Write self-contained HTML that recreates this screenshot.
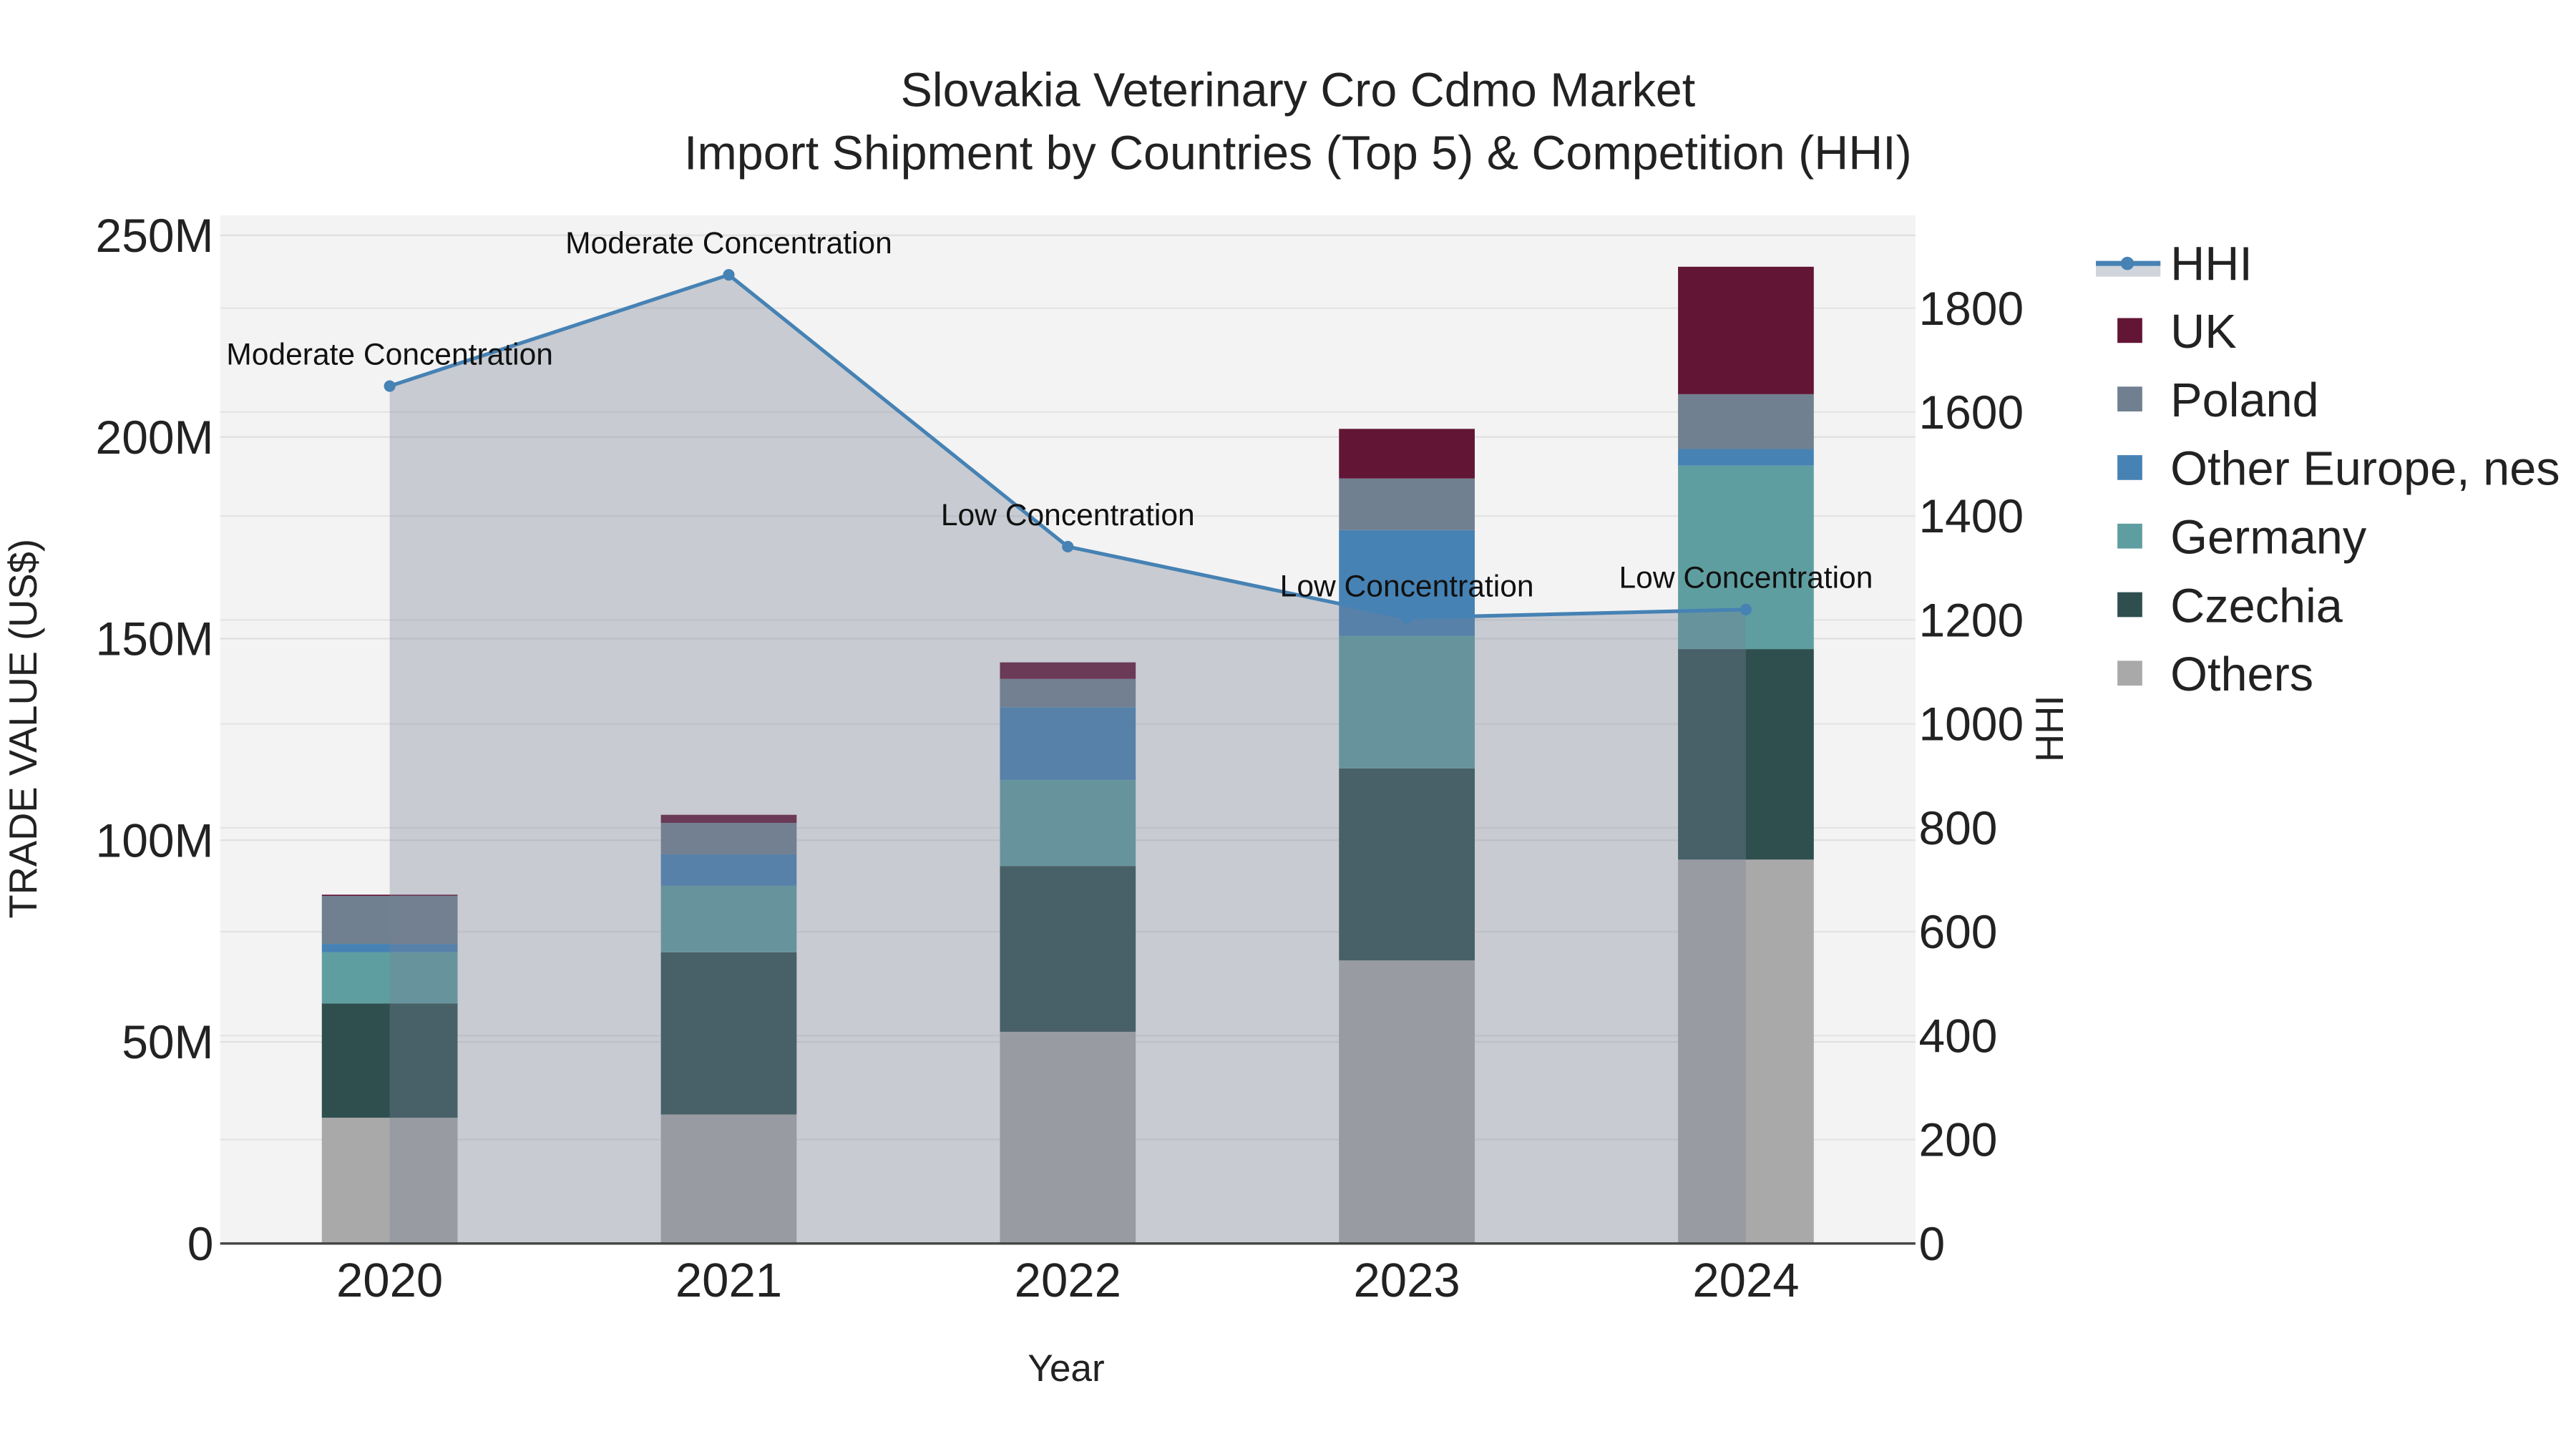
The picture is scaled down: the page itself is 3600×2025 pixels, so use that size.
<!DOCTYPE html>
<html><head><meta charset="utf-8">
<style>
html,body{margin:0;padding:0;background:#fff;}
svg{display:block;font-family:"Liberation Sans",sans-serif;}
</style></head>
<body>
<svg id="chart" width="3600" height="2025" viewBox="0 0 1556 875" xmlns="http://www.w3.org/2000/svg">
<rect x="0" y="0" width="1556" height="875" fill="#ffffff"/>
<rect x="133" y="130" width="1024" height="621" fill="#f3f3f3"/>
<g id="grid"></g>
<g id="bars"></g>
<g id="area"></g>
<g id="axes"></g>
<text x="784" y="64" text-anchor="middle" font-size="28.7" fill="#222">Slovakia Veterinary Cro Cdmo Market</text>
<text x="784" y="102" text-anchor="middle" font-size="28.7" fill="#222">Import Shipment by Countries (Top 5) &amp; Competition (HHI)</text>
<text x="644" y="834" text-anchor="middle" font-size="23" fill="#222">Year</text>
<text transform="translate(22,440) rotate(-90)" text-anchor="middle" font-size="23.5" fill="#222">TRADE VALUE (US$)</text>
<text transform="translate(1246,440) rotate(-90)" text-anchor="middle" font-size="23.5" fill="#222">HHI</text>
<g id="legend"></g>
</svg>
<script>
const years = ["2020","2021","2022","2023","2024"];
const others = [31.2, 32.0, 52.5, 70.2, 95.2];
const czechia = [28.3, 40.2, 41.1, 47.6, 52.2];
const germany = [12.7, 16.5, 21.3, 32.9, 45.5];
const otherEurope = [2.1, 7.8, 18.1, 26.2, 4.1];
const poland = [11.9, 7.8, 7.0, 12.8, 13.6];
const uk = [0.3, 2.0, 4.1, 12.3, 31.6];
const hhi = [1650, 1864, 1341, 1204, 1220];
const hhiLabels = ["Moderate Concentration","Moderate Concentration","Low Concentration","Low Concentration","Low Concentration"];
const yTicks = [0, 50, 100, 150, 200, 250];
const yTickLabels = ["0","50M","100M","150M","200M","250M"];
const y2Ticks = [0, 200, 400, 600, 800, 1000, 1200, 1400, 1600, 1800];

const NS = "http://www.w3.org/2000/svg";
const L = 133, R = 1157, T = 130, B = 751;
const xS = i => L + (i + 0.5) * (R - L) / years.length;
const yS = v => B - v * (609 / 250);
const y2S = v => B - v * (565 / 1800);
function mk(tag, attrs, parent) {
  const e = document.createElementNS(NS, tag);
  for (const k in attrs) e.setAttribute(k, attrs[k]);
  parent.appendChild(e);
  return e;
}
const grid = document.getElementById("grid");
const bars = document.getElementById("bars");
const area = document.getElementById("area");
const axes = document.getElementById("axes");
const legend = document.getElementById("legend");

yTicks.forEach((t, i) => {
  if (t > 0) {
    const g = mk("line", {x1: L, x2: R, y1: yS(t), y2: yS(t), stroke: "#e0e0e0", "stroke-width": 1}, grid);
    
    
  }
  const tx = mk("text", {x: 129, y: yS(t) + 10, "text-anchor": "end", "font-size": 28.5, fill: "#222"}, axes);
  tx.textContent = yTickLabels[i];
  
  
});
y2Ticks.forEach(t => {
  if (t > 0) {
    const g = mk("line", {x1: L, x2: R, y1: y2S(t), y2: y2S(t), stroke: "#e4e4e4", "stroke-width": 1}, grid);
    
    
  }
  const tx = mk("text", {x: 1159, y: y2S(t) + 10, "text-anchor": "start", "font-size": 28.5, fill: "#222"}, axes);
  tx.textContent = String(t);
  
  
});

const series = [
  {name: "Others", vals: others, color: "#a9a9a9"},
  {name: "Czechia", vals: czechia, color: "#2f4f4f"},
  {name: "Germany", vals: germany, color: "#5f9ea0"},
  {name: "Other Europe, nes", vals: otherEurope, color: "#4682b4"},
  {name: "Poland", vals: poland, color: "#708090"},
  {name: "UK", vals: uk, color: "#631535"}
];
const bw = 82;
years.forEach((y, i) => {
  let cum = 0;
  series.forEach(s => {
    const v = s.vals[i];
    const r = mk("rect", {x: xS(i) - bw / 2, y: yS(cum + v), width: bw, height: yS(cum) - yS(cum + v), fill: s.color}, bars);
    
    
    cum += v;
  });
  const tx = mk("text", {x: xS(i), y: 783, "text-anchor": "middle", "font-size": 29, fill: "#222"}, axes);
  tx.textContent = y;
  
  
});

let d = "M" + xS(0) + "," + B;
hhi.forEach((v, i) => { d += " L" + xS(i) + "," + y2S(v); });
d += " L" + xS(hhi.length - 1) + "," + B + " Z";
const fillArea = mk("path", {d: d, fill: "rgba(119,130,150,0.35)"}, area);


const line = mk("polyline", {points: hhi.map((v, i) => xS(i) + "," + y2S(v)).join(" "), fill: "none", stroke: "#4682b4", "stroke-width": 2.2}, area);


hhi.forEach((v, i) => {
  const c = mk("circle", {cx: xS(i), cy: y2S(v), r: 3.5, fill: "#4682b4"}, area);
  
  
  const a = mk("text", {x: xS(i), y: y2S(v) - 13, "text-anchor": "middle", "font-size": 18.4, fill: "#111"}, area);
  a.textContent = hhiLabels[i];
  
  
});

const axisLine = mk("line", {x1: L, x2: R, y1: B, y2: B, stroke: "#444", "stroke-width": 1.5}, axes);



const lg1 = mk("rect", {x: 1266, y: 159, width: 39, height: 8, fill: "#d0d5dc"}, legend);


const lg2 = mk("line", {x1: 1266, x2: 1305, y1: 159, y2: 159, stroke: "#4682b4", "stroke-width": 3}, legend);


const lg3 = mk("circle", {cx: 1285, cy: 159, r: 4, fill: "#4682b4"}, legend);


const lt = mk("text", {x: 1311, y: 169, "font-size": 28.8, fill: "#222"}, legend);
lt.textContent = "HHI";


const legOrder = ["UK", "Poland", "Other Europe, nes", "Germany", "Czechia", "Others"];
legOrder.forEach((n, k) => {
  const s = series.find(q => q.name === n);
  const cy = 200 + k * 41.4;
  const sq = mk("rect", {x: 1279, y: cy - 8, width: 15, height: 15, fill: s.color}, legend);
  
  
  const t = mk("text", {x: 1311, y: cy + 10, "font-size": 28.8, fill: "#222"}, legend);
  t.textContent = n;
  
  
});
</script>
</body></html>
